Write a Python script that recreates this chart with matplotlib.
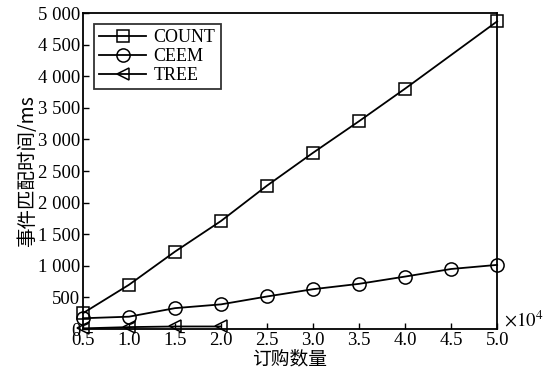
import matplotlib
matplotlib.use("Agg")
import matplotlib.pyplot as plt
from matplotlib.ticker import FuncFormatter

plt.rcParams['font.family'] = ['Liberation Serif', 'Noto Sans CJK SC']
plt.rcParams['mathtext.fontset'] = 'stix'

# data (x in units of 10^4 orders)
count_x = [0.5, 1.0, 1.5, 2.0, 2.5, 3.0, 3.5, 4.0, 5.0]
count_y = [250, 700, 1225, 1710, 2270, 2790, 3290, 3805, 4870]
ceem_x = [0.5, 1.0, 1.5, 2.0, 2.5, 3.0, 3.5, 4.0, 4.5, 5.0]
ceem_y = [170, 195, 330, 390, 515, 630, 715, 830, 950, 1015]
tree_x = [0.5, 1.0, 1.5, 2.0]
tree_y = [10, 30, 40, 40]
x_ticks = [0.5, 1.0, 1.5, 2.0, 2.5, 3.0, 3.5, 4.0, 4.5, 5.0]
y_ticks = [0, 500, 1000, 1500, 2000, 2500, 3000, 3500, 4000, 4500, 5000]

fig = plt.figure(figsize=(5.53, 3.76), dpi=100)
ax = fig.add_axes([0.150, 0.125, 0.749, 0.840])

style = dict(color='black', lw=1.3, mfc='none', mec='black', mew=1.1, clip_on=False)
ax.plot(count_x, count_y, marker='s', ms=8, label='COUNT', **style)
ax.plot(ceem_x, ceem_y, marker='o', ms=9.5, label='CEEM', **style)
ax.plot(tree_x, tree_y, marker='<', ms=9, label='TREE', **style)

ax.set_xlim(0.5, 5.0)
ax.set_ylim(0, 5000)
ax.set_xticks(x_ticks)
ax.set_xticklabels(['%.1f' % v for v in x_ticks])
ax.set_yticks(y_ticks)
ax.yaxis.set_major_formatter(FuncFormatter(lambda v, p: '{:,}'.format(int(v)).replace(',', ' ')))
ax.tick_params(direction='in', length=4, width=1, labelsize=13.5, top=False, right=False, pad=2)
for s in ax.spines.values():
    s.set_linewidth(1.3)

ax.set_xlabel('订购数量', fontsize=13.5, family=['Noto Sans CJK SC'], labelpad=0)
ax.set_ylabel('事件匹配时间/ms', fontsize=14, family=['Noto Sans CJK SC', 'Liberation Serif'], labelpad=0)
fig.text(0.912, 0.12, r'$\times 10^4$', fontsize=13.5, ha='left', va='bottom')

leg = ax.legend(loc='upper left', fontsize=13, frameon=True, fancybox=False,
                edgecolor='black', handlelength=2.6, borderpad=0.3, labelspacing=0.1,
                handletextpad=0.4, borderaxespad=0.6)
leg.get_frame().set_linewidth(1.3)

fig.savefig('out.png', dpi=100)
